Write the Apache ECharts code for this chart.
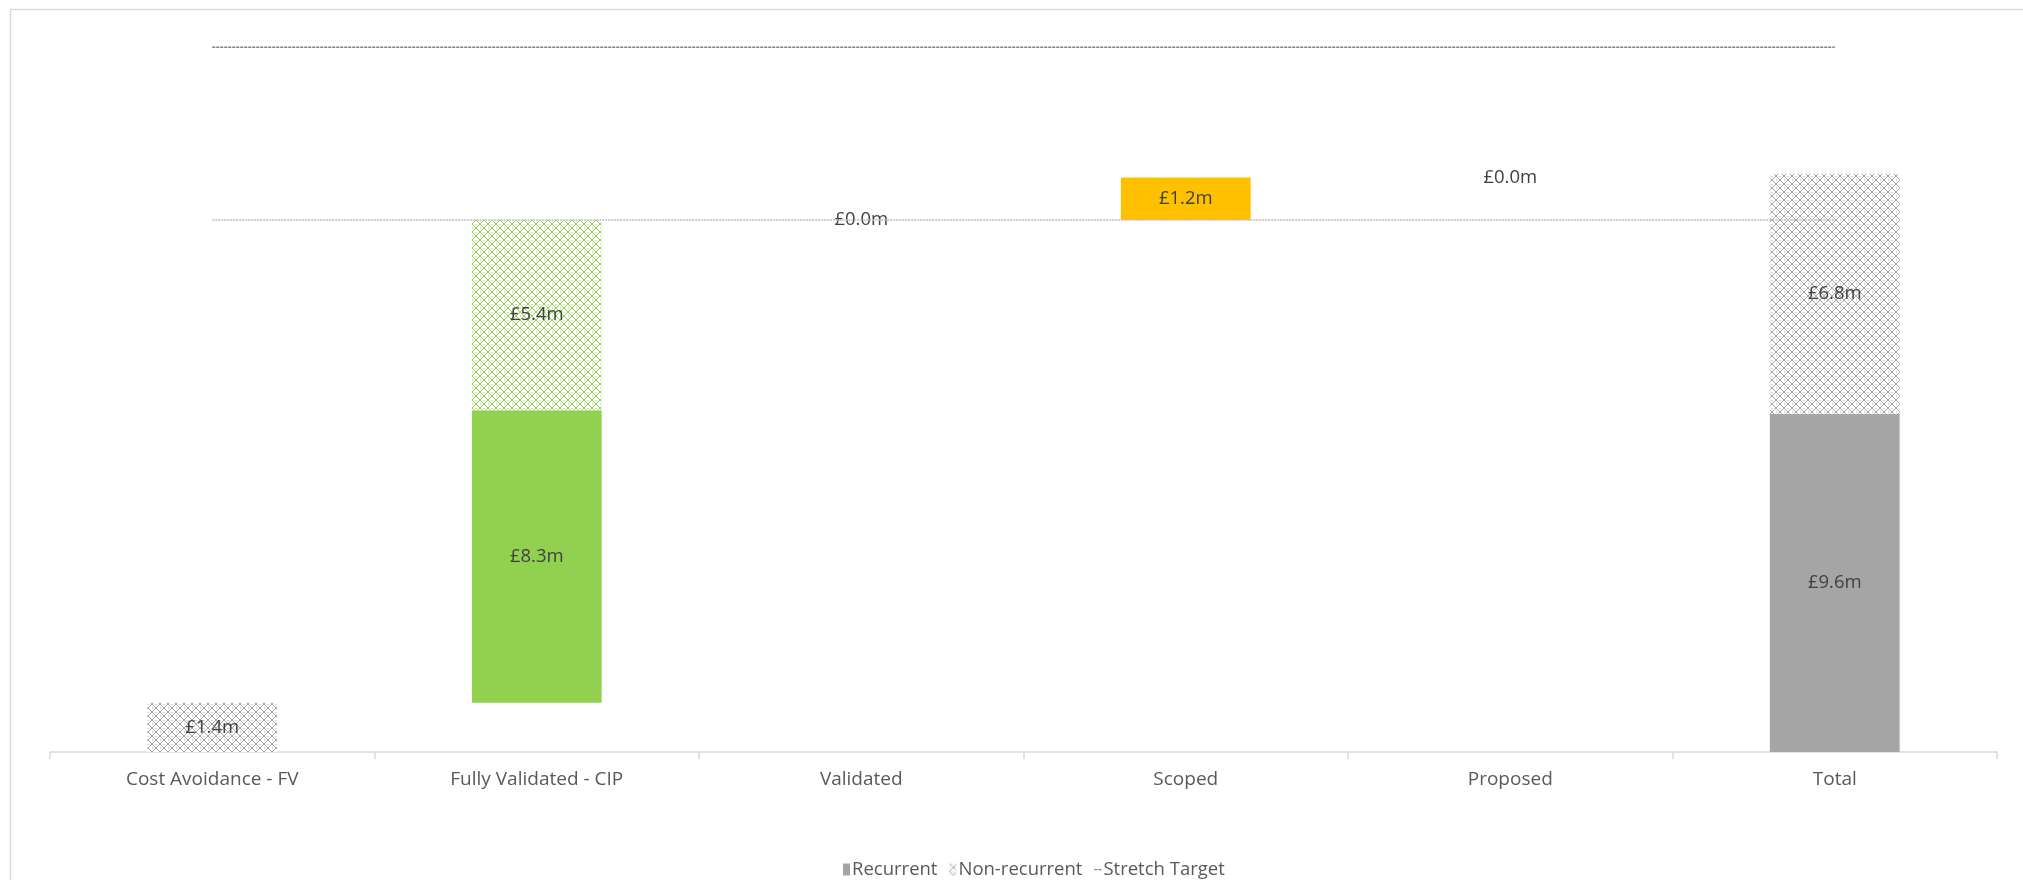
<!DOCTYPE html>
<html>
<head>
<meta charset="utf-8">
<title>Savings waterfall</title>
<script src="https://cdn.jsdelivr.net/npm/echarts@6/dist/echarts.min.js"></script>
<style>
  html, body { margin: 0; padding: 0; background: #fff; }
  #savings_chart { width: 2023px; height: 880px; }
</style>
</head>
<body>
<div id="savings_chart"></div>
<script>
// data (£m)
const categories = ['Cost Avoidance - FV', 'Fully Validated - CIP', 'Validated', 'Scoped', 'Proposed', 'Total'];
const recurrent = [null, 8.3, null, null, null, 9.6];
const nonRecurrent = [1.4, 5.4, null, null, null, 6.8];
const pipeline = [null, null, 0.0, 1.2, 0.0, null];
const stretchTarget = [20, 20, 20, 20, 20, 20];
const target = [15.1, 15.1, 15.1, 15.1, 15.1, 15.1];

// colours per category
const barColors = ['#a5a5a5', '#92d050', '#ffc000', '#ffc000', '#ffc000', '#a5a5a5'];

// waterfall base: running total, total column starts from 0
const base = (() => {
  let run = 0;
  return categories.map((c, i) => {
    if (i === categories.length - 1) return 0;
    const start = run;
    run += (recurrent[i] || 0) + (nonRecurrent[i] || 0) + (pipeline[i] || 0);
    return start;
  });
})();

// diamond hatch like the excel pattern fill
const makePattern = (color) => {
  const c = document.createElement('canvas');
  c.width = 8;
  c.height = 8;
  const ctx = c.getContext('2d');
  ctx.fillStyle = '#ffffff';
  ctx.fillRect(0, 0, 8, 8);
  ctx.fillStyle = color;
  for (let i = 0; i < 8; i++) {
    ctx.fillRect(i, i, 1, 1);
    ctx.fillRect(7 - i, i, 1, 1);
  }
  ctx.globalAlpha = 0.5;
  ctx.fillRect(3, 0, 2, 1);
  ctx.fillRect(0, 3, 1, 2);
  return { image: c, repeat: 'repeat' };
};

const money = (v) => '£' + Number(v).toFixed(1) + 'm';

const labelStyle = {
  show: true,
  position: 'inside',
  color: '#404040',
  fontSize: 18.5,
  fontFamily: 'Open Sans',
  formatter: (p) => money(p.value),
};

// short dashes for the target legend icon (corner specks keep the box size)
const dashIcon = 'path://M0,0h0.05v0.05h-0.05z M0,11.95h0.05v0.05h-0.05z M0,5.4h3v1.4h-3z M4,5.4h3v1.4h-3z';

const chartDom = document.getElementById('savings_chart');
const myChart = echarts.init(chartDom);

const option = {
  animation: false,
  textStyle: { fontFamily: 'Open Sans' },
  graphic: [
    {
      type: 'rect',
      shape: { x: 10.5, y: 9.5, width: 2040, height: 900 },
      style: { fill: 'none', stroke: '#d9d9d9', lineWidth: 1.5 },
      silent: true,
    },
  ],
  legend: {
    left: 838,
    top: 855,
    itemWidth: 7,
    itemHeight: 12,
    itemGap: 12,
    textStyle: { color: '#595959', fontSize: 18.5, padding: [0, 0, 0, -3] },
    data: [
      { name: 'Recurrent', icon: 'rect', itemStyle: { color: '#a5a5a5' } },
      { name: 'Non-recurrent', icon: 'rect', itemStyle: { color: makePattern('#a5a5a5') } },
      { name: 'Stretch Target', icon: dashIcon, itemStyle: { color: '#7f7f7f' } },
    ],
  },
  grid: {
    left: 50,
    right: 26,
    top: 12,
    bottom: 128,
  },
  xAxis: {
    type: 'category',
    data: categories,
    axisLine: { lineStyle: { color: '#d9d9d9', width: 1.5 } },
    axisTick: { show: true, length: 7, lineStyle: { color: '#d9d9d9', width: 1.5 } },
    axisLabel: { color: '#595959', fontSize: 19, margin: 18 },
  },
  yAxis: {
    type: 'value',
    min: 0,
    max: 21,
    show: false,
    splitLine: { show: false },
  },
  series: [
    {
      name: 'base',
      type: 'bar',
      stack: 'wf',
      barWidth: '40%',
      silent: true,
      itemStyle: { color: 'transparent' },
      data: base,
    },
    {
      name: 'Recurrent',
      type: 'bar',
      stack: 'wf',
      barWidth: '40%',
      itemStyle: { color: '#a5a5a5' },
      label: labelStyle,
      data: recurrent.map((v, i) => ({ value: v, itemStyle: { color: barColors[i] } })),
    },
    {
      name: 'Non-recurrent',
      type: 'bar',
      stack: 'wf',
      barWidth: '40%',
      itemStyle: { color: makePattern('#a5a5a5') },
      label: labelStyle,
      data: nonRecurrent.map((v, i) => ({ value: v, itemStyle: { color: makePattern(barColors[i]) } })),
    },
    {
      name: 'Pipeline',
      type: 'bar',
      stack: 'wf',
      barWidth: '40%',
      itemStyle: { color: '#ffc000' },
      label: labelStyle,
      data: pipeline.map((v, i) => ({ value: v, itemStyle: { color: barColors[i] } })),
    },
    {
      name: 'Target',
      type: 'line',
      showSymbol: false,
      silent: true,
      lineStyle: { color: '#bfbfbf', width: 1.5, type: [2, 1] },
      data: target,
    },
    {
      name: 'Stretch Target',
      type: 'line',
      showSymbol: false,
      silent: true,
      itemStyle: { color: '#7f7f7f' },
      lineStyle: { color: '#7f7f7f', width: 1.5, type: [3, 1] },
      data: stretchTarget,
    },
  ],
};

option && myChart.setOption(option);
</script>
</body>
</html>
